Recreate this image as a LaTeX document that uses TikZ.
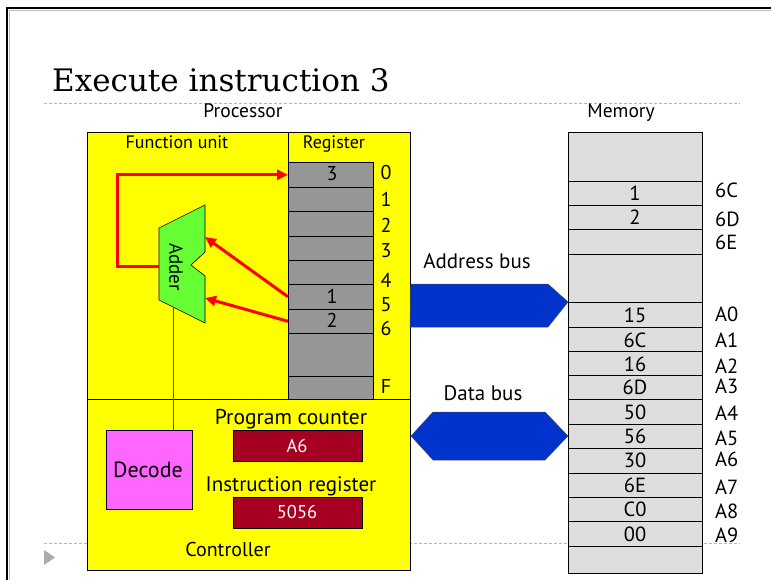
\documentclass[tikz,border=0pt]{standalone}
\usepackage{fontspec}
\setsansfont{PT Sans}
\newfontfamily\titlefont{DejaVu Serif}
\usetikzlibrary{arrows.meta}
\definecolor{procyellow}{HTML}{FFFF00}
\definecolor{reggray}{HTML}{969696}
\definecolor{memgray}{HTML}{DDDDDD}
\definecolor{addergreen}{HTML}{66FF33}
\definecolor{decodepink}{HTML}{FF66FF}
\definecolor{boxred}{HTML}{A50021}
\definecolor{busblue}{HTML}{0033CC}
\definecolor{arrowred}{HTML}{FF0000}
\definecolor{rulegray}{HTML}{B4B4B4}
\newcommand\fsz[1]{\sffamily\fontsize{#1}{#1}\selectfont}
\begin{document}
\begin{tikzpicture}[x=1pt,y=-1pt,
  lbl/.style={inner sep=0pt, anchor=base, font=\fsz{19}},
  lblw/.style={lbl, anchor=base west, font=\fsz{20.5}},
  regrow/.style={draw=black, line width=0.6pt, fill=reggray, minimum width=85pt, inner sep=0pt, anchor=north west},
  memrow/.style={draw=black, line width=0.6pt, fill=memgray, minimum width=134pt, inner sep=0pt, anchor=north west},
  redbox/.style={draw=black, line width=0.6pt, fill=boxred, minimum width=129pt, minimum height=31pt, inner sep=0pt, anchor=north west},
  redarrow/.style={draw=arrowred, line width=3pt, -{Triangle[length=11pt,width=10pt]}},
  bus/.style={draw=black!70, line width=0.5pt, fill=busblue},
  dashrule/.style={draw=rulegray, line width=0.7pt, dash pattern=on 3pt off 2pt}]
\useasboundingbox (0,0) rectangle (771,580);
% slide frame
\draw[gray!50, line width=1pt] (9.5,580) -- (9.5,10.5) -- (771,10.5);
\draw[black, line width=2pt] (7,580) -- (7,8.5) -- (771,8.5);
% title and rules
\node[inner sep=0pt, anchor=base west, font=\titlefont\fontsize{31}{36}\selectfont] (title) at (52,92) {Execute instruction 3};
\draw[dashrule] (44,103) -- (740,103);
\draw[dashrule] (44,543) -- (740,543);
\fill[gray!65] (44,550) -- (55,557.5) -- (44,565) -- cycle;
% processor
\node[lbl, font=\fsz{19.5}] (proclbl) at (243,118) {Processor};
\node[draw=black, line width=0.8pt, fill=procyellow, minimum width=323pt, minimum height=438pt, inner sep=0pt, anchor=north west] (proc) at (87,132) {};
\draw[black, line width=0.8pt] (87,399) -- (410,399);
\draw[black, line width=0.8pt] (288,132) -- (288,162);
\node[lbl, font=\fsz{18}] (fulbl) at (177,149) {Function unit};
\node[lbl, font=\fsz{18}] (reglbl) at (334,149) {Register};
% register rows
\foreach \n/\t/\h in {0/162/25, 1/187/24, 2/211/25, 3/236/24, 4/260/24, 5/284/25, 6/309/24, 7/333/43, 8/376/23}
  \node[regrow, minimum height=\h pt] (r\n) at (288,\t) {};
\node[lbl, font=\fsz{20}] (rv0) at (332,181) {3};
\node[lbl, font=\fsz{20}] (rv5) at (332,303) {1};
\node[lbl, font=\fsz{20}] (rv6) at (332,327) {2};
\foreach \n/\l/\b in {0/0/180, 1/1/207, 2/2/233, 3/3/258, 4/4/287, 5/5/311, 6/6/335, 8/F/393}
  \node[lbl, font=\fsz{20}] (ri\n) at (386,\b) {\l};
% adder
\coordinate (aTL) at (159,228);
\coordinate (aTR) at (205,205);
\coordinate (aN1) at (205,252);
\coordinate (aNT) at (191,265);
\coordinate (aN2) at (205,276);
\coordinate (aBR) at (205,323);
\coordinate (aBL) at (159,300);
\coordinate (aOut) at (159,266);
\coordinate (aIn1) at (205,237);
\coordinate (aIn2) at (205,298);
\coordinate (aBot) at (173,307);
\draw[black, line width=0.6pt, fill=addergreen] (aTL) -- (aTR) -- (aN1) -- (aNT) -- (aN2) -- (aBR) -- (aBL) -- cycle;
\node[inner sep=0pt, rotate=-90, font=\fsz{19}] (adderlbl) at (176,267) {Adder};
% red connectors
\draw[redarrow] (aOut) -- ++(-42,0) |- (r0.west);
\draw[redarrow] (r5.west) -- (aIn1);
\draw[redarrow] (r6.west) -- (aIn2);
% controller
\node[draw=black, line width=0.6pt, fill=decodepink, minimum width=86pt, minimum height=79pt, inner sep=0pt, anchor=north west] (decode) at (106,430) {};
\node[lbl, font=\fsz{22}] (decodelbl) at (148,477) {Decode};
\draw[arrowred, line width=0.7pt] (aBot) -- (aBot |- decode.north);
\node[lbl, font=\fsz{21.5}] (pclbl) at (291,424) {Program counter};
\node[redbox] (pc) at (233,430) {};
\node[lbl, text=white, font=\fsz{18.5}] (pcval) at (297,452) {A6};
\node[lbl, font=\fsz{21}] (irlbl) at (291,491) {Instruction register};
\node[redbox] (ir) at (233,497) {};
\node[lbl, text=white, font=\fsz{18.5}] (irval) at (297,518) {5056};
\node[lbl, font=\fsz{20}] (ctrllbl) at (228,556) {Controller};
% memory
\node[lbl, font=\fsz{19.5}] (memlbl) at (621,118) {Memory};
\foreach \n/\t/\h in {0/132/49, 1/181/24, 2/205/24, 3/229/25, 4/254/48, 5/302/25, 6/327/24, 7/351/24, 8/375/24, 9/399/25, 10/424/24, 11/448/25, 12/473/24, 13/497/24, 14/521/25, 15/546/27}
  \node[memrow, minimum height=\h pt] (m\n) at (568,\t) {};
\foreach \n/\v/\b in {1/1/201, 2/2/225, 5/15/322, 6/6C/347, 7/16/371, 8/6D/394, 9/50/419, 10/56/443, 11/30/467, 12/6E/492, 13/C0/516, 14/00/541}
  \node[lbl, font=\fsz{20.5}] (mv\n) at (635,\b) {\v};
\foreach \n/\a/\b in {1/6C/198, 2/6D/226, 3/6E/250, 5/A0/321, 6/A1/347, 7/A2/373, 8/A3/393, 9/A4/420, 10/A5/445, 11/A6/466, 12/A7/494, 13/A8/518, 14/A9/542}
  \node[lblw] (ma\n) at (715,\b) {\a};
% buses
\coordinate (abL) at (proc.east |- 0,284);
\draw[bus] (abL) -- (548,284) -- (m5.north west) -- (548,327) -- (410,327) -- cycle;
\node[lbl, font=\fsz{21}] (ablbl) at (477,269) {Address bus};
\draw[bus] (411,436) -- (433,412) -- (545,412) -- (568,436) -- (545,460) -- (433,460) -- cycle;
\node[lbl, font=\fsz{21}] (dblbl) at (483,400) {Data bus};
\end{tikzpicture}
\end{document}
